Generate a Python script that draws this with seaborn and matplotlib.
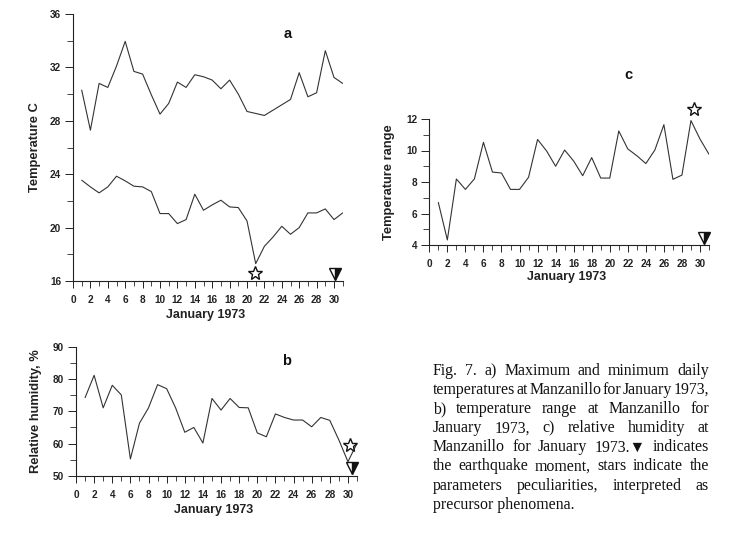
import numpy as np
import pandas as pd
import matplotlib
matplotlib.use("Agg")
import matplotlib.pyplot as plt
from matplotlib.ticker import MultipleLocator
import seaborn as sns

# -------------------------------------
# DATA
# -------------------------------------
days = list(range(1, 32))

t_max = [30.3, 27.3, 30.8, 30.5, 32.1, 33.95, 31.7, 31.5, 29.95, 28.5,
         29.3, 30.9, 30.5, 31.45, 31.3, 31.05, 30.4, 31.05, 30.0, 28.7,
         28.55, 28.4, 28.8, 29.2, 29.6, 31.6, 29.8, 30.1, 33.25, 31.25, 30.8]

t_min = [23.55, 23.05, 22.6, 23.05, 23.85, 23.5, 23.1, 23.05, 22.7, 21.05,
         21.05, 20.3, 20.6, 22.5, 21.3, 21.7, 22.05, 21.55, 21.5, 20.5,
         17.3, 18.6, 19.3, 20.1, 19.5, 20.0, 21.1, 21.1, 21.4, 20.6, 21.1]

t_range = [6.7, 4.32, 8.19, 7.53, 8.2, 10.52, 8.63, 8.57, 7.53, 7.53,
           8.3, 10.7, 9.97, 9.0, 10.03, 9.33, 8.4, 9.55, 8.25, 8.25,
           11.24, 10.1, 9.67, 9.17, 10.03, 11.64, 8.17, 8.44, 11.9, 10.73, 9.76]

humidity = [74.25, 81.2, 71.1, 78.1, 75.1, 55.2, 66.3, 71.1, 78.3, 77.05,
            71.0, 63.5, 65.0, 60.15, 74.0, 70.4, 74.0, 71.2, 71.1, 63.3,
            62.1, 69.2, 68.1, 67.3, 67.3, 65.2, 68.1, 67.2, 61.1, 54.35, 60.05]

# precursor stars and earthquake triangles: (day, value)
star_a = (20.9, 16.6)
quake_a = (30.1, 16.5)
star_c = (29.3, 12.65)
quake_c = (30.4, 4.45)
star_b = (30.2, 59.5)
quake_b = (30.4, 52.4)

CAPTION_LINES = [
    "Fig. 7. a) Maximum and minimum daily",
    "temperatures at Manzanillo for January 1973,",
    "b) temperature range at Manzanillo for",
    "January 1973, c) relative humidity at",
    "Manzanillo for January 1973.\u25BC  indicates",
    "the earthquake moment, stars indicate the",
    "parameters peculiarities, interpreted as",
    "precursor phenomena.",
]

# -------------------------------------
# STYLE
# -------------------------------------
sns.set_style("ticks")
plt.rcParams["font.family"] = ["Liberation Sans", "DejaVu Sans"]
plt.rcParams["font.weight"] = "bold"
plt.rcParams["axes.linewidth"] = 0.8
plt.rcParams["axes.edgecolor"] = "#222222"

W, H = 733, 536
fig = plt.figure(figsize=(W / 100, H / 100), dpi=100)
fig.patch.set_facecolor("white")


def px_axes(left, top, right, bottom):
    # axes from pixel box of the reference
    return fig.add_axes([left / W, 1 - bottom / H, (right - left) / W, (bottom - top) / H])


def style_axis(ax, ylim, ymajor, yminor, xlabel_y, ylabel_x, ylabel):
    ax.set_xlim(0, 31)
    ax.set_ylim(*ylim)
    ax.xaxis.set_minor_locator(MultipleLocator(1))
    ax.yaxis.set_major_locator(MultipleLocator(ymajor))
    ax.yaxis.set_minor_locator(MultipleLocator(yminor))
    ax.set_xticks(np.arange(0, 31, 2))
    sns.despine(ax=ax)
    ax.tick_params(axis="x", which="major", length=5, width=0.7, pad=5,
                   labelsize=7.2, colors="#222222")
    ax.tick_params(axis="x", which="minor", length=3.5, width=0.6)
    ax.tick_params(axis="y", which="major", length=6, width=0.7, pad=2.5,
                   labelsize=7.2, colors="#222222")
    ax.tick_params(axis="y", which="minor", length=4, width=0.6)
    for lab in ax.get_xticklabels() + ax.get_yticklabels():
        lab.set_fontweight("bold")
    ax.set_xlabel("January 1973", fontsize=9, fontweight="bold", color="#222222")
    ax.set_ylabel(ylabel, fontsize=9.3, fontweight="bold", color="#222222")
    ax.xaxis.set_label_coords(0.49, xlabel_y)
    ax.yaxis.set_label_coords(ylabel_x, 0.5)
    ax.set_facecolor("white")


def markers(ax, star, quake):
    ax.plot(*star, marker="*", ms=10, mfc="white", mec="#111111", mew=1.0,
            clip_on=False, zorder=5)
    ax.plot(*quake, marker="v", ms=9, fillstyle="right", mfc="#111111",
            mfcalt="white", mec="#111111", mew=1.0, clip_on=False, zorder=5)


line_kw = dict(color="#333333", linewidth=0.8)

# -------------------------------------
# PANEL a : max / min temperature
# -------------------------------------
df_a = pd.DataFrame({"day": days, "max": t_max, "min": t_min})
ax_a = px_axes(73, 14, 342.7, 281)
sns.lineplot(data=df_a, x="day", y="max", ax=ax_a, **line_kw)
sns.lineplot(data=df_a, x="day", y="min", ax=ax_a, **line_kw)
style_axis(ax_a, (16, 36), 4, 2, -0.103, -0.118, "Temperature C")
markers(ax_a, star_a, quake_a)
fig.text(288 / W, 1 - 34 / H, "a", fontsize=10.5, fontweight="bold",
         ha="center", va="center", color="#111111")

# -------------------------------------
# PANEL c : temperature range
# -------------------------------------
df_c = pd.DataFrame({"day": days, "range": t_range})
ax_c = px_axes(429.3, 119, 709, 245)
sns.lineplot(data=df_c, x="day", y="range", ax=ax_c, **line_kw)
style_axis(ax_c, (4, 12), 2, 1, -0.21, -0.123, "Temperature range")
markers(ax_c, star_c, quake_c)
fig.text(628 / W, 1 - 75 / H, "c", fontsize=10.5, fontweight="bold",
         ha="center", va="center", color="#111111")

# -------------------------------------
# PANEL b : relative humidity
# -------------------------------------
df_b = pd.DataFrame({"day": days, "rh": humidity})
ax_b = px_axes(76, 347, 357, 475.7)
sns.lineplot(data=df_b, x="day", y="rh", ax=ax_b, **line_kw)
style_axis(ax_b, (50, 90), 10, 5, -0.22, -0.122, "Relative humidity, %")
markers(ax_b, star_b, quake_b)
fig.text(287 / W, 1 - 361 / H, "b", fontsize=10.5, fontweight="bold",
         ha="center", va="center", color="#111111")

# -------------------------------------
# CAPTION (justified by hand)
# -------------------------------------
CAP_LEFT, CAP_RIGHT = 433, 709
CAP_FIRST, CAP_STEP = 375, 19.1
cap_font = dict(family=["Liberation Serif", "DejaVu Sans"], fontsize=11.4,
                fontweight="normal", color="#111111", va="baseline", ha="left")

renderer = fig.canvas.get_renderer()
for i, line in enumerate(CAPTION_LINES):
    y = 1 - (CAP_FIRST + i * CAP_STEP) / H
    words = line.split()
    if i == len(CAPTION_LINES) - 1:
        fig.text(CAP_LEFT / W, y, line, **cap_font)
        continue
    texts = [fig.text(0, y, w, **cap_font) for w in words]
    widths = [t.get_window_extent(renderer).width for t in texts]
    gap = (CAP_RIGHT - CAP_LEFT - sum(widths)) / (len(words) - 1)
    x = CAP_LEFT
    for t, w in zip(texts, widths):
        t.set_x(x / W)
        x += w + gap

fig.savefig("out.png", dpi=100, facecolor="white")
